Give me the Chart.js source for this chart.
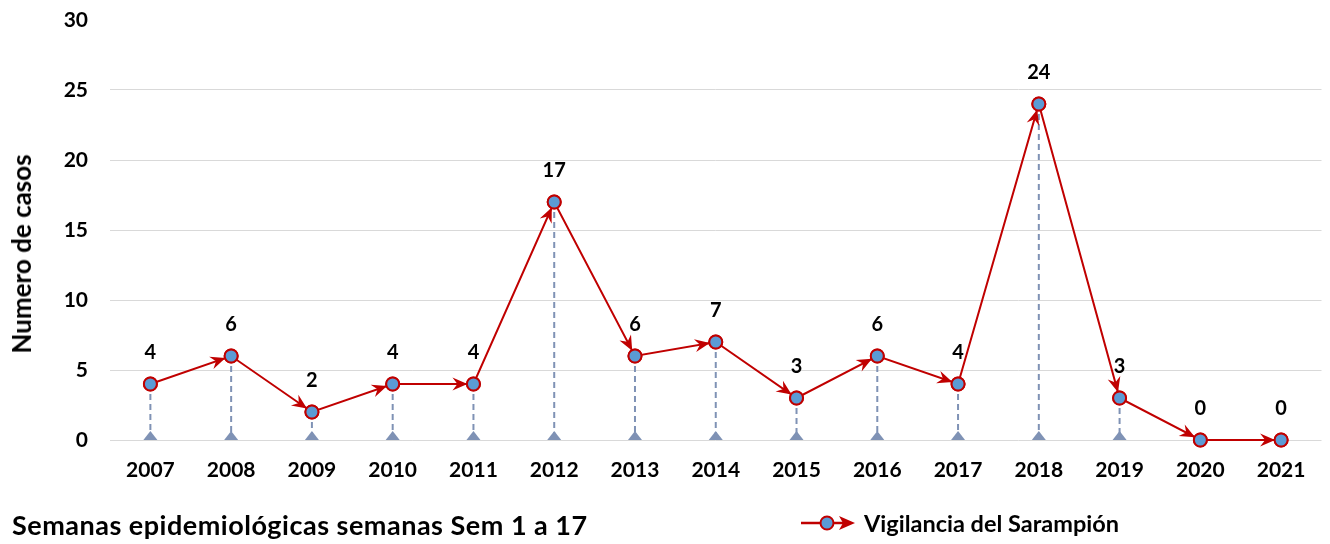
<!DOCTYPE html>
<html>
<head>
<meta charset="utf-8">
<script src="https://cdn.jsdelivr.net/npm/chart.js@4/dist/chart.umd.min.js"></script>
<style>
  html, body { margin:0; padding:0; background:#fff; }
  #wrap { position:relative; width:1330px; height:544px; }
  #c { position:absolute; left:0; top:0; }
  .caption { position:absolute; left:12px; top:508px; font-family:Lato, "Liberation Sans", sans-serif; font-weight:bold; font-size:27px; letter-spacing:0.5px; line-height:34px; color:#000; white-space:nowrap; }
  .ytitle { position:absolute; left:21px; top:254px; width:0; height:0; }
  .ytitle span { position:absolute; left:0; top:0; transform:translate(-50%,-50%) rotate(-90deg); font-family:Lato, "Liberation Sans", sans-serif; font-weight:bold; font-size:26px; line-height:30px; color:#000; white-space:nowrap; }
  .legend { position:absolute; left:800px; top:507px; height:32px; font-family:Lato, "Liberation Sans", sans-serif; font-weight:bold; font-size:23.5px; color:#000; white-space:nowrap; display:flex; align-items:center; }
  .legend svg { margin-right:8px; }
</style>
</head>
<body>
<div id="wrap">
  <canvas id="c" width="1330" height="544"></canvas>
  <div class="ytitle"><span>Numero de casos</span></div>
  <div class="caption">Semanas epidemiológicas semanas Sem 1 a 17</div>
  <div class="legend">
    <svg width="56" height="20" viewBox="0 0 56 20">
      <line x1="1" y1="10" x2="48" y2="10" stroke="#C00000" stroke-width="2.5"/>
      <circle cx="27" cy="10" r="6.5" fill="#5B9BD5" stroke="#C00000" stroke-width="2"/>
      <path d="M55 10 L39 3 L43 10 L39 17 Z" fill="#C00000"/>
    </svg>
    <span>Vigilancia del Sarampión</span>
  </div>
</div>
<script>
const years = ['2007','2008','2009','2010','2011','2012','2013','2014','2015','2016','2017','2018','2019','2020','2021'];
const cases = [4,6,2,4,4,17,6,7,3,6,4,24,3,0,0];
const yTicks = [0,5,10,15,20,25,30];
const seriesName = 'Vigilancia del Sarampión';

const FONT = 'Lato, "Liberation Sans", sans-serif';
const RED = '#C00000';
const DROP = '#7F92B5';

const decor = {
  id: 'decor',
  beforeDatasetsDraw(chart) {
    const ctx = chart.ctx;
    const meta = chart.getDatasetMeta(0);
    const yScale = chart.scales.y;
    const y0 = yScale.getPixelForValue(0);
    ctx.save();
    meta.data.forEach((pt, i) => {
      if (cases[i] > 0) {
        ctx.strokeStyle = DROP;
        ctx.lineWidth = 2;
        ctx.setLineDash([6, 4]);
        ctx.beginPath();
        ctx.moveTo(pt.x, pt.y);
        ctx.lineTo(pt.x, y0);
        ctx.stroke();
        ctx.setLineDash([]);
        ctx.fillStyle = DROP;
        ctx.beginPath();
        ctx.moveTo(pt.x - 7, y0);
        ctx.lineTo(pt.x + 7, y0);
        ctx.lineTo(pt.x, y0 - 9);
        ctx.closePath();
        ctx.fill();
      }
    });
    ctx.restore();
  },
  afterDatasetsDraw(chart) {
    const ctx = chart.ctx;
    const meta = chart.getDatasetMeta(0);
    ctx.save();
    for (let i = 1; i < meta.data.length; i++) {
      const a = meta.data[i - 1], b = meta.data[i];
      const ang = Math.atan2(b.y - a.y, b.x - a.x);
      const r = 6;
      const tx = b.x - Math.cos(ang) * r, ty = b.y - Math.sin(ang) * r;
      const L = 15, W = 6.5, N = 10;
      ctx.fillStyle = RED;
      ctx.beginPath();
      ctx.moveTo(tx, ty);
      const bx = tx - Math.cos(ang) * L, by = ty - Math.sin(ang) * L;
      const nx = tx - Math.cos(ang) * N, ny = ty - Math.sin(ang) * N;
      ctx.lineTo(bx - Math.sin(ang) * W, by + Math.cos(ang) * W);
      ctx.lineTo(nx, ny);
      ctx.lineTo(bx + Math.sin(ang) * W, by - Math.cos(ang) * W);
      ctx.closePath();
      ctx.fill();
    }
    meta.data.forEach(pt => pt.draw(ctx, chart.chartArea));
    ctx.fillStyle = '#000';
    ctx.font = 'bold 20px ' + FONT;
    ctx.textAlign = 'center';
    ctx.textBaseline = 'middle';
    meta.data.forEach((pt, i) => {
      ctx.fillText(String(cases[i]), pt.x, pt.y - 31);
    });
    ctx.restore();
  }
};

new Chart(document.getElementById('c'), {
  type: 'line',
  data: {
    labels: years,
    datasets: [{
      label: seriesName,
      data: cases,
      borderColor: RED,
      borderWidth: 2,
      backgroundColor: '#5B9BD5',
      pointBackgroundColor: '#5B9BD5',
      pointBorderColor: RED,
      pointBorderWidth: 2,
      pointRadius: 6.5,
      pointHoverRadius: 6.5,
      tension: 0,
      fill: false,
      clip: false
    }]
  },
  options: {
    responsive: false,
    animation: false,
    events: [],
    layout: { padding: { top: 20, right: -2, left: 0, bottom: 0 } },
    plugins: { legend: { display: false }, tooltip: { enabled: false } },
    scales: {
      x: {
        offset: true,
        grid: { display: false, drawTicks: false },
        border: { display: false },
        ticks: { color: '#000', font: { family: FONT, size: 21, weight: 'bold' }, padding: 18, maxRotation: 0 },
        afterFit(s) { s.height = 104; s.paddingLeft = 0; s.paddingRight = 0; s.paddingTop = 0; s.paddingBottom = 0; }
      },
      y: {
        min: 0, max: 30,
        afterBuildTicks(s) { s.ticks = yTicks.map(v => ({ value: v })); },
        grid: {
          drawTicks: false,
          color: c => (c.tick && c.tick.value === 30) ? 'rgba(0,0,0,0)' : '#D9D9D9',
          lineWidth: 1
        },
        border: { display: false },
        ticks: { color: '#000', font: { family: FONT, size: 21, weight: 'bold' }, padding: 22 },
        afterFit(s) { s.width = 110; s.paddingTop = 0; s.paddingBottom = 0; s.paddingLeft = 0; s.paddingRight = 0; }
      }
    }
  },
  plugins: [decor]
});
</script>
</body>
</html>
